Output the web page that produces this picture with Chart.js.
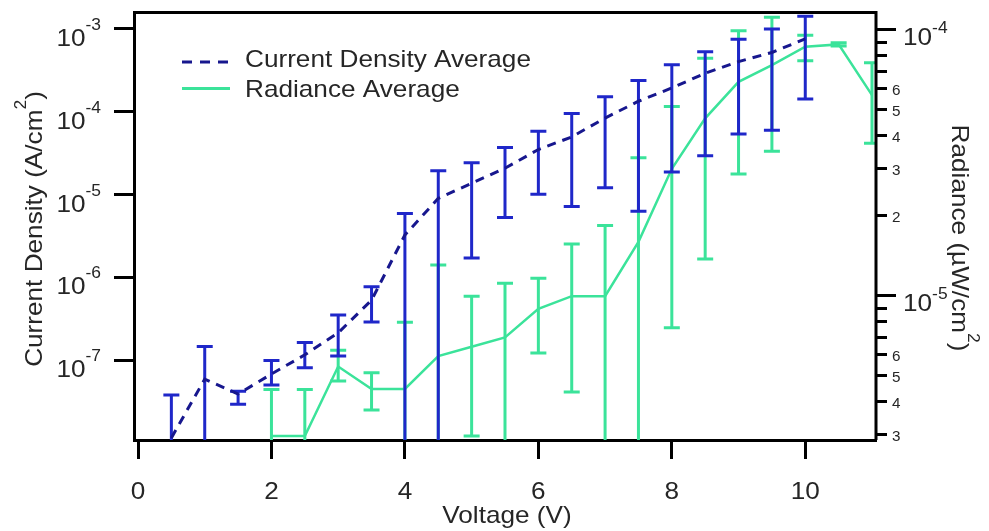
<!DOCTYPE html>
<html>
<head>
<meta charset="utf-8">
<script src="https://cdn.jsdelivr.net/npm/chart.js@4/dist/chart.umd.min.js"></script>
<style>
	html, body { margin: 0; padding: 0; background: #fff; }
	canvas { display: block; }
</style>
</head>
<body>
<canvas id="ivChart" width="989" height="531"></canvas>
<script>
// current density (left axis, A/cm2)
var curVolts = [0.5, 1, 1.5, 2, 2.5, 3, 3.5, 4, 4.5, 5, 5.5, 6, 6.5, 7, 7.5, 8, 8.5, 9, 9.5, 10];
var curAvg = [1.15e-8, 5.9e-8, 3.9e-8, 6.8e-8, 1.16e-7, 2.14e-7, 5.3e-7, 3.25e-6, 9.0e-6, 1.37e-5, 2.08e-5, 3.5e-5, 4.97e-5, 8.4e-5, 1.34e-4, 1.94e-4, 2.92e-4, 4.03e-4, 5.2e-4, 7.6e-4];
var curHigh = [3.8e-8, 1.46e-7, 4.2e-8, 9.9e-8, 1.63e-7, 3.5e-7, 7.7e-7, 5.9e-6, 1.94e-5, 2.43e-5, 3.69e-5, 5.8e-5, 9.5e-5, 1.52e-4, 2.38e-4, 3.7e-4, 5.3e-4, 7.5e-4, 1.0e-3, 1.42e-3];
// null = error bar runs off the bottom of the axis
var curLow = [null, null, 2.93e-8, 5.0e-8, 8.1e-8, 1.12e-7, 2.9e-7, null, null, 1.71e-6, 5.3e-6, 1.01e-5, 7.2e-6, 1.21e-5, 6.3e-6, 1.87e-5, 2.95e-5, 5.4e-5, 6.0e-5, 1.43e-4];

// radiance (right axis, uW/cm2)
var radVolts = [2, 2.5, 3, 3.5, 4, 4.5, 5, 5.5, 6, 6.5, 7, 7.5, 8, 8.5, 9, 9.5, 10, 10.5, 11];
var radAvg = [2.96e-6, 2.96e-6, 5.4e-6, 4.45e-6, 4.45e-6, 5.91e-6, 6.41e-6, 6.95e-6, 8.9e-6, 9.93e-6, 9.93e-6, 1.59e-5, 2.99e-5, 4.63e-5, 6.35e-5, 7.34e-5, 8.6e-5, 8.78e-5, 5.66e-5];
var radHigh = [4.43e-6, 4.43e-6, 6.22e-6, 5.12e-6, 7.92e-6, 1.30e-5, 9.93e-6, 1.11e-5, 1.16e-5, 1.56e-5, 1.83e-5, 3.29e-5, 5.13e-5, 7.78e-5, 9.88e-5, 1.11e-4, 9.5e-5, 8.9e-5, 7.49e-5];
var radLow = [null, null, 4.77e-6, 3.71e-6, null, null, 2.96e-6, null, 6.07e-6, 4.33e-6, null, null, 7.55e-6, 1.37e-5, 2.86e-5, 3.48e-5, 7.62e-5, 8.65e-5, 3.73e-5];

var xTicks = [0, 2, 4, 6, 8, 10];
var curTicks = [1e-7, 1e-6, 1e-5, 1e-4, 1e-3];
var radMajor = [1e-5, 1e-4];
var radMinor = [3e-6, 4e-6, 5e-6, 6e-6, 7e-6, 8e-6, 9e-6, 2e-5, 3e-5, 4e-5, 5e-5, 6e-5, 7e-5, 8e-5, 9e-5];

var FONT = '"Liberation Sans", Arial, sans-serif';
var SX = 1.09; // text in the original is a bit wide
var TEXT = '#262626';
var BLUE_BAR = '#1f27c9';
var BLUE_LINE = '#17178e';
var GREEN = '#3be39a';
var CAP = 8;

function toXY(xs, ys) {
	return xs.map(function(v, i) { return { x: v, y: ys[i] }; });
}

// draws runs of text one after another, runs may be raised (superscripts)
function drawText(ctx, runs, x, y, rot, align) {
	ctx.save();
	ctx.translate(x, y);
	if (rot) ctx.rotate(rot);
	ctx.scale(SX, 1);
	ctx.fillStyle = TEXT;
	ctx.textAlign = 'left';
	ctx.textBaseline = 'alphabetic';
	var total = 0;
	runs.forEach(function(r) {
		ctx.font = r.size + 'px ' + FONT;
		r.w = ctx.measureText(r.t).width;
		total += r.w;
	});
	var pos = align === 'center' ? -total / 2 : (align === 'right' ? -total : 0);
	runs.forEach(function(r) {
		ctx.font = r.size + 'px ' + FONT;
		ctx.fillText(r.t, pos, r.dy || 0);
		pos += r.w;
	});
	ctx.restore();
}

var errorSets = [
	{ axis: 'y', xs: curVolts, high: curHigh, low: curLow, color: BLUE_BAR },
	{ axis: 'y2', xs: radVolts, high: radHigh, low: radLow, color: GREEN }
];

var errorBars = {
	id: 'errorBars',
	beforeDatasetDraw: function(chart, args) {
		var set = errorSets[args.index];
		if (!set) return;
		var ctx = chart.ctx, area = chart.chartArea;
		var xs = chart.scales.x, ys = chart.scales[set.axis];
		ctx.save();
		ctx.beginPath();
		ctx.rect(area.left, area.top, area.right - area.left, area.bottom - area.top);
		ctx.clip();
		ctx.strokeStyle = set.color;
		ctx.lineWidth = 3;
		set.xs.forEach(function(v, i) {
			var px = xs.getPixelForValue(v);
			var top = ys.getPixelForValue(set.high[i]);
			var bot = set.low[i] == null ? area.bottom + 2 : ys.getPixelForValue(set.low[i]);
			ctx.beginPath();
			ctx.moveTo(px, top);
			ctx.lineTo(px, bot);
			ctx.moveTo(px - CAP, top);
			ctx.lineTo(px + CAP, top);
			if (set.low[i] != null) {
				ctx.moveTo(px - CAP, bot);
				ctx.lineTo(px + CAP, bot);
			}
			ctx.stroke();
		});
		ctx.restore();
	}
};

var decorations = {
	id: 'decorations',
	afterDraw: function(chart) {
		var ctx = chart.ctx, area = chart.chartArea;
		var xs = chart.scales.x, ys = chart.scales.y, y2 = chart.scales.y2;

		// frame top and right
		ctx.save();
		ctx.strokeStyle = '#000';
		ctx.lineWidth = 3;
		ctx.beginPath();
		ctx.moveTo(area.left, area.top + 0.5);
		ctx.lineTo(area.right, area.top + 0.5);
		ctx.lineTo(area.right, area.bottom);
		ctx.stroke();

		// right axis ticks
		radMajor.forEach(function(v) {
			var py = Math.round(y2.getPixelForValue(v)) + 0.5;
			ctx.beginPath();
			ctx.moveTo(area.right, py);
			ctx.lineTo(area.right + 20, py);
			ctx.stroke();
		});
		radMinor.forEach(function(v) {
			var py = Math.round(y2.getPixelForValue(v)) + 0.5;
			ctx.beginPath();
			ctx.moveTo(area.right, py);
			ctx.lineTo(area.right + 11, py);
			ctx.stroke();
		});
		ctx.restore();

		// tick labels
		xTicks.forEach(function(v) {
			drawText(ctx, [{ t: String(v), size: 24 }], xs.getPixelForValue(v), 499, 0, 'center');
		});
		curTicks.forEach(function(v) {
			var py = ys.getPixelForValue(v);
			var exp = Math.round(Math.log10(v));
			drawText(ctx, [{ t: '10', size: 24 }, { t: String(exp), size: 16, dy: -16 }], 101, py + 17, 0, 'right');
		});
		radMajor.forEach(function(v) {
			var py = y2.getPixelForValue(v);
			var exp = Math.round(Math.log10(v));
			drawText(ctx, [{ t: '10', size: 24 }, { t: String(exp), size: 16, dy: -12 }], 903, py + 16, 0, 'left');
		});
		radMinor.forEach(function(v) {
			var digit = Math.round(v / Math.pow(10, Math.floor(Math.log10(v) + 1e-9)));
			if (digit > 6) return;
			var py = y2.getPixelForValue(v);
			drawText(ctx, [{ t: String(digit), size: 14 }], 892, py + 7, 0, 'left');
		});

		// axis titles
		drawText(ctx, [{ t: 'Voltage (V)', size: 24 }], 507, 523, 0, 'center');
		drawText(ctx, [{ t: 'Current Density (A/cm', size: 24 }, { t: '2', size: 16, dy: -16 }, { t: ')', size: 24 }], 42, 229, -Math.PI / 2, 'center');
		drawText(ctx, [{ t: 'Radiance (\u00b5W/cm', size: 24 }, { t: '2', size: 16, dy: -16 }, { t: ')', size: 24 }], 952, 238, Math.PI / 2, 'center');

		// legend
		ctx.save();
		ctx.lineWidth = 3;
		ctx.strokeStyle = BLUE_LINE;
		ctx.setLineDash([10, 8]);
		ctx.beginPath();
		ctx.moveTo(182, 62);
		ctx.lineTo(230, 62);
		ctx.stroke();
		ctx.setLineDash([]);
		ctx.strokeStyle = GREEN;
		ctx.beginPath();
		ctx.moveTo(182, 88.5);
		ctx.lineTo(230, 88.5);
		ctx.stroke();
		ctx.restore();
		drawText(ctx, [{ t: 'Current Density Average', size: 24 }], 245, 67, 0, 'left');
		drawText(ctx, [{ t: 'Radiance Average', size: 24 }], 245, 97, 0, 'left');
	}
};

var axisGrid = { display: true, drawOnChartArea: false, drawTicks: true, tickWidth: 3, tickColor: '#000' };

new Chart(document.getElementById('ivChart'), {
	type: 'line',
	data: {
		datasets: [{
			label: 'Current Density Average',
			data: toXY(curVolts, curAvg),
			yAxisID: 'y',
			borderColor: BLUE_LINE,
			borderWidth: 3,
			borderDash: [9, 7],
			pointRadius: 0,
			tension: 0
		}, {
			label: 'Radiance Average',
			data: toXY(radVolts, radAvg),
			yAxisID: 'y2',
			borderColor: GREEN,
			borderWidth: 2.5,
			pointRadius: 0,
			tension: 0
		}]
	},
	options: {
		responsive: false,
		animation: false,
		devicePixelRatio: 1,
		layout: { padding: { left: 114, right: 113, top: 12, bottom: 72 } },
		plugins: { legend: { display: false }, tooltip: { enabled: false } },
		scales: {
			x: {
				type: 'linear',
				min: -0.06,
				max: 11.06,
				afterBuildTicks: function(s) { s.ticks = xTicks.map(function(v) { return { value: v }; }); },
				ticks: { display: false },
				grid: Object.assign({ tickLength: 19 }, axisGrid),
				border: { display: true, color: '#000', width: 3 }
			},
			y: {
				type: 'logarithmic',
				position: 'left',
				min: 1.086e-8,
				max: 1.603e-3,
				afterBuildTicks: function(s) { s.ticks = curTicks.map(function(v) { return { value: v }; }); },
				ticks: { display: false },
				grid: Object.assign({ tickLength: 20 }, axisGrid),
				border: { display: true, color: '#000', width: 3 }
			},
			y2: {
				type: 'logarithmic',
				position: 'right',
				display: false,
				min: 2.86e-6,
				max: 1.162e-4
			}
		}
	},
	plugins: [errorBars, decorations]
});
</script>
</body>
</html>
